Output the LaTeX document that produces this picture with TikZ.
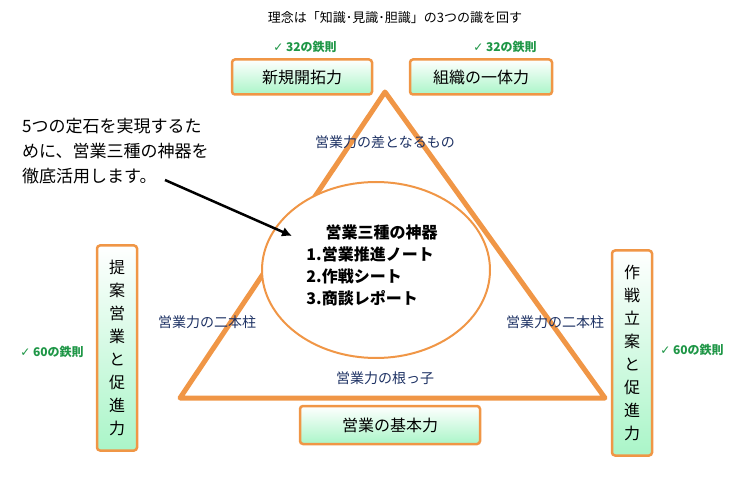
\documentclass[tikz,border=0pt]{standalone}
\usetikzlibrary{shapes.geometric,arrows.meta}
\usepackage{fontspec}
\setmainfont{Noto Sans CJK JP}
\newfontfamily\dv{DejaVu Sans}
\definecolor{org}{RGB}{240,150,70}
\definecolor{mint}{RGB}{170,245,200}
\definecolor{grn}{RGB}{30,150,70}
\definecolor{navy}{RGB}{30,50,100}
\tikzset{x=1pt,y=-1pt,
 scrollh/.style={draw=org,line width=2.5pt,rounded corners=3pt,top color=white,bottom color=mint,font=\fontsize{16}{16}\selectfont,inner sep=0pt},
 rule/.style={text=grn,font=\fontsize{12}{12}\selectfont\bfseries},
 lab/.style={text=navy,font=\fontsize{14}{14}\selectfont}}
\begin{document}
\begin{tikzpicture}
\useasboundingbox (0,0) rectangle (750,478);
\node (title) at (395,18) {\fontsize{13}{13}\selectfont 理念は「知識･見識･胆識」の3つの識を回す};
\draw[org,line width=5pt,line join=round] (385,92) -- (605,398) -- (180,398) -- cycle;
\node[draw=org,line width=2pt,fill=white,ellipse,minimum width=228pt,minimum height=176pt] (ell) at (376,270) {};
\node[align=left,font=\fontsize{16}{22}\selectfont\bfseries] (etext) at (372,265) {\hspace*{1.2em}営業三種の神器\\1.営業推進ノート\\2.作戦シート\\3.商談レポート};
\node[scrollh,minimum width=140pt,minimum height=35pt] (b1) at (302,77) {新規開拓力};
\node[scrollh,minimum width=142pt,minimum height=35pt] (b2) at (481,77) {組織の一体力};
\node[scrollh,minimum width=180pt,minimum height=38pt] (b3) at (390,425) {営業の基本力};
\node[scrollh,minimum width=40pt,minimum height=205pt,align=center,font=\fontsize{16}{23}\selectfont] (b4) at (117,348) {提\\案\\営\\業\\と\\促\\進\\力};
\node[scrollh,minimum width=40pt,minimum height=205pt,align=center,font=\fontsize{16}{23}\selectfont] (b5) at (632,353) {作\\戦\\立\\案\\と\\促\\進\\力};
\node[rule] (r1) at (305,47) {{\dv ✓}\ 32の鉄則};
\node[rule] (r2) at (505,47) {{\dv ✓}\ 32の鉄則};
\node[rule] (r3) at (52,352) {{\dv ✓}\ 60の鉄則};
\node[rule] (r4) at (692,350) {{\dv ✓}\ 60の鉄則};
\node[lab] (l1) at (385,142) {営業力の差となるもの};
\node[lab] (l2) at (207,322) {営業力の二本柱};
\node[lab] (l3) at (555,322) {営業力の二本柱};
\node[lab] (l4) at (385,378) {営業力の根っ子};
\node[anchor=north west,align=left,font=\fontsize{17}{25}\selectfont,inner sep=0pt] (msg) at (22,118) {5つの定石を実現するた\\めに、営業三種の神器を\\徹底活用します。};
\coordinate (a0) at (165,180);
\coordinate (a1) at (292,236);
\draw[line width=2.5pt,-{Latex[length=10pt,width=10pt]}] (a0) -- (a1);
\end{tikzpicture}
\end{document}
